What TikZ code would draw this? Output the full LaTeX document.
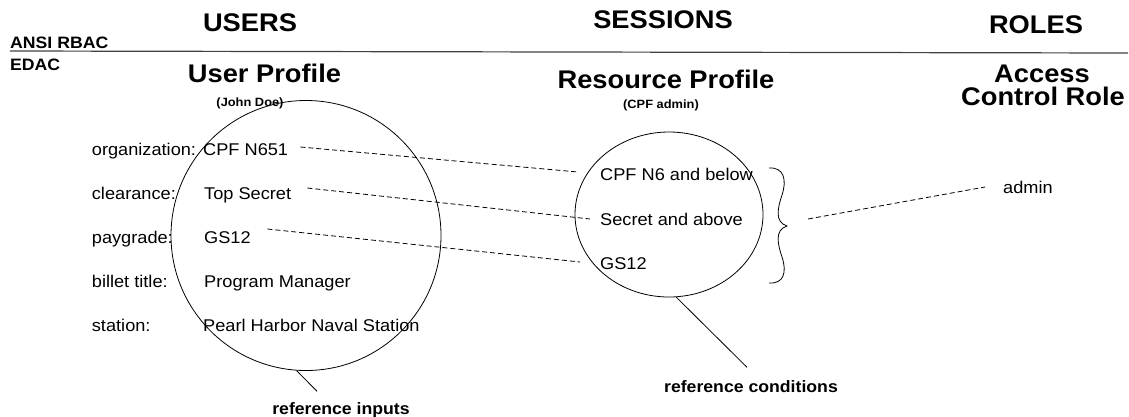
\documentclass[tikz,border=0pt]{standalone}
\usepackage{fontspec}
\setmainfont{Liberation Sans}[FakeStretch=1.07]
\usepackage{tikz}
\usetikzlibrary{positioning,shapes.geometric}

\begin{document}
\begin{tikzpicture}[
		x=1pt, y=-1pt,
		txtnode/.style={inner sep=0pt, text height=12.5pt, text depth=3.5pt, font=\fontsize{17}{20}\selectfont},
		headnode/.style={inner sep=0pt, font=\bfseries\fontsize{25.5}{28}\selectfont},
		subnode/.style={inner sep=0pt, text height=9pt, text depth=2.5pt, font=\bfseries\fontsize{12}{14}\selectfont},
		tagnode/.style={inner sep=0pt, text height=12.5pt, text depth=3.5pt, font=\bfseries\fontsize{16.5}{19}\selectfont},
		ringnode/.style={draw=black, line width=0.8pt, inner sep=0pt},
		linkline/.style={line width=0.8pt, dash pattern=on 5pt off 3pt},
		pointline/.style={line width=0.8pt},
	]

		\useasboundingbox (0,0) rectangle (1129,416);

		% rings
		\node[ringnode, circle, minimum size=270pt] (usercirc) at (306,235.5) {};
		\node[ringnode, ellipse, minimum width=188pt, minimum height=165pt] (rescirc) at (669,214.5) {};

		% headings
		\node[tagnode, anchor=base west] (ansi) at (10,48.3) {ANSI RBAC};
		\node[tagnode, anchor=base west] (edac) at (10,70) {EDAC};
		\draw[line width=1.2pt, black!75] (ansi.south west) ++(0,-1) -- (1128,53);

		\node[headnode, anchor=base] (users)    at (250,31.7)  {USERS};
		\node[headnode, anchor=base] (sessions) at (663,28.3)  {SESSIONS};
		\node[headnode, anchor=base] (roles)    at (1036,33)   {ROLES};

		\node[headnode, anchor=base] (userprof) at (264.5,82)  {User Profile};
		\node[subnode, anchor=base]  (john)     at (250,106)   {(John Doe)};
		\node[headnode, anchor=base] (resprof)  at (666,88.3)  {Resource Profile};
		\node[subnode, anchor=base]  (cpfadm)   at (661,108)   {(CPF admin)};
		\node[headnode, anchor=base] (access)   at (1042,82)   {Access};
		\node[headnode, anchor=base] (ctrlrole) at (1043,105)  {Control Role};

		% user attributes
		\node[txtnode, anchor=base west] (org)    at (91.7,155) {organization:};
		\node[txtnode, anchor=base west] (clr)    at (91.7,199) {clearance:};
		\node[txtnode, anchor=base west] (pay)    at (91.7,243) {paygrade:};
		\node[txtnode, anchor=base west] (bil)    at (91.7,287) {billet title:};
		\node[txtnode, anchor=base west] (sta)    at (91.7,331) {station:};

		\node[txtnode, anchor=base west] (orgval) at (203,155) {CPF N651};
		\node[txtnode, anchor=base west] (clrval) at (204,199) {Top Secret};
		\node[txtnode, anchor=base west] (payval) at (204,243) {GS12};
		\node[txtnode, anchor=base west] (bilval) at (204,287) {Program Manager};
		\node[txtnode, anchor=base west] (staval) at (203,331) {Pearl Harbor Naval Station};

		% resource conditions
		\node[txtnode, anchor=base west] (cond1)  at (600,180) {CPF N6 and below};
		\node[txtnode, anchor=base west] (cond2)  at (600,225) {Secret and above};
		\node[txtnode, anchor=base west] (cond3)  at (600,269) {GS12};

		% role
		\node[txtnode, anchor=base west] (admin)  at (1003,193) {admin};

		% captions
		\node[tagnode, anchor=base] (refin)   at (341,414) {reference inputs};
		\node[tagnode, anchor=base] (refcond) at (751,392) {reference conditions};

		% brace
		\coordinate (bracetop) at (769,168);
		\coordinate (bracemid) at (787,226);
		\coordinate (bracebot) at (769,283);
		\coordinate (bracetip) at (808,219);
		\draw[pointline] (bracetop) .. controls (784,167) and (787,180) .. (782,195)
			.. controls (778,207) and (774,222) .. (bracemid)
			.. controls (774,230) and (778,245) .. (782,257)
			.. controls (787,272) and (784,284) .. (bracebot);

		% lines
		\draw[linkline] ([xshift=12pt,yshift=3.5pt]orgval.east) -- ([xshift=-22pt,yshift=3.5pt]cond1.west);
		\draw[linkline] ([xshift=16pt,yshift=6.5pt]clrval.east) -- ([xshift=-10pt,yshift=1.5pt]cond2.west);
		\draw[linkline] ([xshift=16.5pt,yshift=9.5pt]payval.east) -- ([xshift=-20pt,yshift=2.5pt]cond3.west);
		\draw[linkline] (bracetip) -- ([xshift=-18pt,yshift=1.5pt]admin.west);

		\draw[pointline] (usercirc.-94) -- ([xshift=-24pt,yshift=10pt]refin.north);
		\draw[pointline] (rescirc.-85) -- ([xshift=-4pt,yshift=12pt]refcond.north);

	\end{tikzpicture}
\end{document}
